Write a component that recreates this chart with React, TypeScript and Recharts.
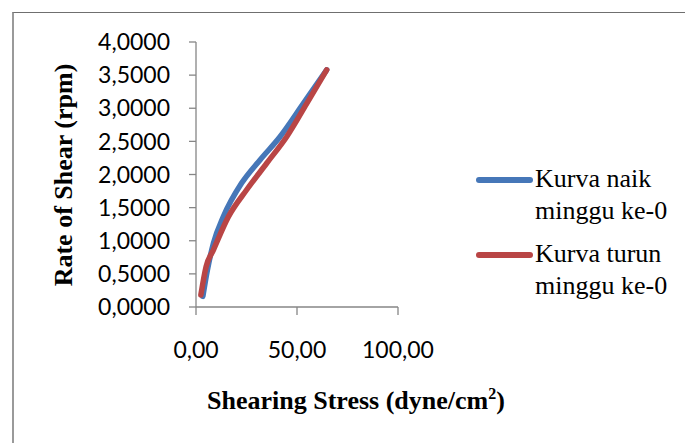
import React from "react";
import { LineChart, Line, XAxis, YAxis } from "recharts";

// Shearing stress (dyne/cm2) vs rate of shear (rpm), week 0
const naikStress = [3.4, 5.6, 8.6, 13.5, 22.6, 31.7, 41.6, 53.1, 64.7];
const naikRate = [0.16, 0.55, 0.96, 1.36, 1.87, 2.22, 2.57, 3.07, 3.58];
const turunStress = [2.4, 5.0, 8.6, 16.0, 25.1, 35.0, 44.9, 54.8, 64.7];
const turunRate = [0.18, 0.61, 0.86, 1.36, 1.77, 2.17, 2.57, 3.07, 3.58];

const xTicks = [0, 50, 100];
const yTicks = [0, 0.5, 1, 1.5, 2, 2.5, 3, 3.5, 4];

const seriesNames = ["Kurva naik minggu ke-0", "Kurva turun minggu ke-0"];
const seriesColors = ["#4677b8", "#b94545"];

const naikData = naikStress.map((x, i) => ({ x, y: naikRate[i] }));
const turunData = turunStress.map((x, i) => ({ x, y: turunRate[i] }));

const comma = (v: number, digits: number) => v.toFixed(digits).replace(".", ",");

const tickFont = { fill: "#000", fontSize: 23, fontFamily: "Lato, 'Open Sans', sans-serif" };
const serif = "'Liberation Serif', serif";

function LegendBlock() {
  const rows = [
    { lines: ["Kurva naik", "minggu ke-0"], color: seriesColors[0], top: 163 },
    { lines: ["Kurva turun", "minggu ke-0"], color: seriesColors[1], top: 238 },
  ];
  return (
    <>
      {rows.map((r, i) => (
        <div key={i} style={{ position: "absolute", left: 472, top: r.top, width: 213 }}>
          <svg width={64} height={34} style={{ position: "absolute", left: 0, top: 0 }}>
            <line x1={7} y1={17} x2={58} y2={17} stroke={r.color} strokeWidth={6} strokeLinecap="round" />
          </svg>
          <div style={{ position: "absolute", left: 63, top: 0 }}>
            {r.lines.map((t) => (
              <div
                key={t}
                style={{
                  fontFamily: serif,
                  fontSize: 26,
                  lineHeight: "32px",
                  color: "#000",
                  whiteSpace: "nowrap",
                }}
              >
                {t}
              </div>
            ))}
          </div>
        </div>
      ))}
    </>
  );
}

export default function App() {
  return (
    <div style={{ position: "absolute", left: 0, top: 0, width: 685, height: 443, background: "#fff", overflow: "hidden" }}>
      <div
        style={{
          position: "absolute",
          left: 12,
          top: 12,
          width: 700,
          height: 460,
          borderTop: "1.5px solid #6f6f6f",
          borderLeft: "2px solid #9a9a9a",
        }}
      />
      <div style={{ position: "absolute", left: 0, top: 0 }}>
        <LineChart width={685} height={443} margin={{ top: 42, right: 287, bottom: 0, left: 0 }}>
          <XAxis
            type="number"
            dataKey="x"
            domain={[0, 100]}
            ticks={xTicks}
            interval={0}
            tickFormatter={(v: number) => comma(v, 2)}
            height={136}
            tickSize={8}
            tickMargin={27}
            stroke="#868686"
            strokeWidth={1.3}
            tick={tickFont}
          />
          <YAxis
            type="number"
            dataKey="y"
            domain={[0, 4]}
            ticks={yTicks}
            interval={0}
            tickFormatter={(v: number) => comma(v, 4)}
            width={196}
            tickSize={7}
            tickMargin={19}
            stroke="#868686"
            strokeWidth={1.3}
            tick={tickFont}
          />
          <Line
            data={naikData}
            dataKey="y"
            name={seriesNames[0]}
            type="monotone"
            stroke={seriesColors[0]}
            strokeWidth={5.5}
            strokeLinecap="round"
            dot={false}
            isAnimationActive={false}
          />
          <Line
            data={turunData}
            dataKey="y"
            name={seriesNames[1]}
            type="monotone"
            stroke={seriesColors[1]}
            strokeWidth={5.5}
            strokeLinecap="round"
            dot={false}
            isAnimationActive={false}
          />
        </LineChart>
      </div>
      <div
        style={{
          position: "absolute",
          left: 64,
          top: 175,
          transform: "translate(-50%, -50%) rotate(-90deg)",
          fontFamily: serif,
          fontWeight: "bold",
          fontSize: 26,
          lineHeight: "26px",
          whiteSpace: "nowrap",
        }}
      >
        Rate of Shear (rpm)
      </div>
      <div
        style={{
          position: "absolute",
          left: 356,
          top: 386,
          transform: "translateX(-50%)",
          fontFamily: serif,
          fontWeight: "bold",
          fontSize: 26,
          whiteSpace: "nowrap",
          lineHeight: "30px",
        }}
      >
        Shearing Stress (dyne/cm<sup style={{ fontSize: 16, verticalAlign: "10px", lineHeight: 0 }}>2</sup>)
      </div>
      <LegendBlock />
    </div>
  );
}
